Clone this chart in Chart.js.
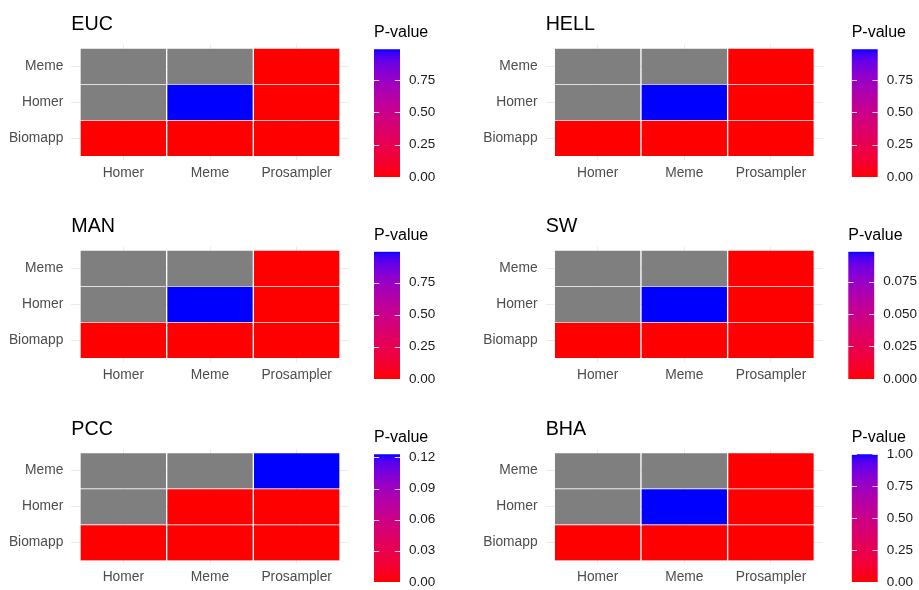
<!DOCTYPE html>
<html>
<head>
<meta charset="utf-8">
<script src="https://cdn.jsdelivr.net/npm/chart.js@4.4.1/dist/chart.umd.min.js"></script>
<style>
  html, body { margin: 0; padding: 0; background: #ffffff; width: 919px; height: 590px; overflow: hidden; position: relative; }
  canvas { position: absolute; }
</style>
</head>
<body>
<script>
// ---- data -------------------------------------------------------------
const xCategories = ['Homer', 'Meme', 'Prosampler'];
const yCategories = ['Biomapp', 'Homer', 'Meme'];
const panelTitles = ['EUC', 'HELL', 'MAN', 'SW', 'PCC', 'BHA'];

// P-values; rows follow yCategories, columns follow xCategories; null = pair not compared
const eucValues  = [[0, 0, 0], [null, 0.99, 0], [null, null, 0]];
const hellValues = [[0, 0, 0], [null, 0.99, 0], [null, null, 0]];
const manValues  = [[0, 0, 0], [null, 0.99, 0], [null, null, 0]];
const swValues   = [[0, 0, 0], [null, 0.098, 0], [null, null, 0]];
const pccValues  = [[0, 0, 0], [null, 0, 0], [null, null, 0.123]];
const bhaValues  = [[0, 0, 0], [null, 1.0, 0], [null, null, 0]];

// colour-bar tick labels
const unitTicks = ['0.00', '0.25', '0.50', '0.75', '1.00'];
const swTicks   = ['0.000', '0.025', '0.050', '0.075'];
const pccTicks  = ['0.00', '0.03', '0.06', '0.09', '0.12'];

const legendTitle = 'P-value';

// ---- layout & style ---------------------------------------------------
const FONT = '"Liberation Sans", Arial, Helvetica, sans-serif';
const TILE_W = 260, TILE_H = 108;   // size of the 3x3 tile block
const BAR_W = 26, BAR_H = 130;      // colour bar size
const NA_COLOR = '#7F7F7F';
const GRID_COLOR = '#EBEBEB';
const AXIS_TEXT = '#4D4D4D';
const LOW = [255, 0, 0], HIGH = [0, 0, 255];

const panels = [
  { title: panelTitles[0], values: eucValues,  ticks: unitTicks, tile: [80, 48],       bar: [374, 49.3] },
  { title: panelTitles[1], values: hellValues, ticks: unitTicks, tile: [554.3, 48],    bar: [851.7, 49.3] },
  { title: panelTitles[2], values: manValues,  ticks: unitTicks, tile: [80, 250],      bar: [374, 251.7] },
  { title: panelTitles[3], values: swValues,   ticks: swTicks,   tile: [554.3, 250],   bar: [848.3, 251.7] },
  { title: panelTitles[4], values: pccValues,  ticks: pccTicks,  tile: [80, 452.5],    bar: [374, 454.3] },
  { title: panelTitles[5], values: bhaValues,  ticks: unitTicks, tile: [554.3, 452.5], bar: [851.7, 454.3] }
];

// ---- red -> blue gradient interpolated in CIE Lab ----------------------
const WHITE = [0.95047, 1, 1.08883];
function toLinear(c) { c /= 255; return c <= 0.04045 ? c / 12.92 : Math.pow((c + 0.055) / 1.055, 2.4); }
function fromLinear(c) {
  const v = c <= 0.0031308 ? 12.92 * c : 1.055 * Math.pow(Math.max(c, 0), 1 / 2.4) - 0.055;
  return Math.round(Math.min(1, Math.max(0, v)) * 255);
}
function rgbToLab(rgb) {
  const [r, g, b] = rgb.map(toLinear);
  const X = (0.4124564 * r + 0.3575761 * g + 0.1804375 * b) / WHITE[0];
  const Y = 0.2126729 * r + 0.7151522 * g + 0.0721750 * b;
  const Z = (0.0193339 * r + 0.1191920 * g + 0.9503041 * b) / WHITE[2];
  const f = t => t > 216 / 24389 ? Math.cbrt(t) : (24389 / 27 * t + 16) / 116;
  const fx = f(X), fy = f(Y), fz = f(Z);
  return [116 * fy - 16, 500 * (fx - fy), 200 * (fy - fz)];
}
function labToRgb([L, a, bb]) {
  const fy = (L + 16) / 116, fx = fy + a / 500, fz = fy - bb / 200;
  const inv = t => (t * t * t > 216 / 24389) ? t * t * t : (116 * t - 16) / (24389 / 27);
  const X = inv(fx) * WHITE[0], Y = inv(fy), Z = inv(fz) * WHITE[2];
  const r = 3.2404542 * X - 1.5371385 * Y - 0.4985314 * Z;
  const g = -0.9692660 * X + 1.8760108 * Y + 0.0415560 * Z;
  const b = 0.0556434 * X - 0.2040259 * Y + 1.0572252 * Z;
  return [fromLinear(r), fromLinear(g), fromLinear(b)];
}
const LOW_LAB = rgbToLab(LOW), HIGH_LAB = rgbToLab(HIGH);
function rampColor(t) {
  t = Math.min(1, Math.max(0, t));
  const lab = LOW_LAB.map((v, i) => v + (HIGH_LAB[i] - v) * t);
  const [r, g, b] = labToRgb(lab);
  return `rgb(${r},${g},${b})`;
}

function valueRange(values) {
  const flat = values.flat().filter(v => v !== null);
  return [Math.min(...flat), Math.max(...flat)];
}

function makeCanvas(left, top, width, height) {
  const c = document.createElement('canvas');
  c.width = width; c.height = height;
  c.style.left = left + 'px'; c.style.top = top + 'px';
  c.style.width = width + 'px'; c.style.height = height + 'px';
  document.body.appendChild(c);
  return c;
}

// ---- heatmap panel -----------------------------------------------------
function drawHeatmap(p) {
  const [lo, hi] = valueRange(p.values);
  const unitX = TILE_W / xCategories.length, unitY = TILE_H / yCategories.length;
  const areaL = p.tile[0] - 0.1 * unitX, areaT = p.tile[1] - 0.1 * unitY;
  const areaW = TILE_W + 0.2 * unitX, areaH = TILE_H + 0.2 * unitY;
  const left = Math.floor(areaL - 70), top = Math.floor(areaT - 42);
  const axisW = areaL - left, headH = areaT - top;
  const width = Math.ceil(axisW + areaW + 10), height = Math.ceil(headH + areaH + 32);
  const rightPad = width - axisW - areaW;
  const axisH = height - headH - areaH;

  const titleSize = 19.7, titleLH = titleSize * 1.2;
  const titleMid = p.tile[1] - 23.3;
  const tPadTop = titleMid - top - titleLH / 2;
  const tPadBottom = headH - titleLH - tPadTop;

  const points = [], colors = [];
  p.values.forEach((row, r) => row.forEach((v, c) => {
    points.push({ x: c, y: [r - 0.5, r + 0.5] });
    colors.push(v === null ? NA_COLOR : rampColor((v - lo) / (hi - lo)));
  }));

  const tickFont = { family: FONT, size: 13.8 };
  new Chart(makeCanvas(left, top, width, height), {
    type: 'bar',
    data: {
      datasets: [{
        data: points,
        backgroundColor: colors,
        borderColor: 'rgba(255,255,255,0.3)',
        borderWidth: 1,
        barPercentage: 1,
        categoryPercentage: 1,
        grouped: false
      }]
    },
    options: {
      responsive: false,
      animation: false,
      events: [],
      layout: { padding: { left: 0, top: 0, right: rightPad, bottom: 0 } },
      plugins: {
        legend: { display: false },
        tooltip: { enabled: false },
        title: {
          display: true, text: p.title, align: 'start', fullSize: false, color: '#000000',
          font: { family: FONT, size: titleSize, weight: 'normal', lineHeight: 1.2 },
          padding: { top: tPadTop, bottom: tPadBottom }
        }
      },
      scales: {
        x: {
          type: 'linear', offset: false, min: -0.6, max: xCategories.length - 0.4,
          afterBuildTicks: s => { s.ticks = xCategories.map((_, i) => ({ value: i })); },
          afterFit: s => { s.height = axisH; },
          ticks: {
            autoSkip: false, maxRotation: 0, padding: 5.2, color: AXIS_TEXT, font: tickFont,
            callback: v => xCategories[Math.round(v)]
          },
          grid: { offset: false, color: GRID_COLOR, lineWidth: 1, drawTicks: false },
          border: { display: false }
        },
        y: {
          type: 'linear', offset: false, min: -0.6, max: yCategories.length - 0.4,
          afterBuildTicks: s => { s.ticks = yCategories.map((_, i) => ({ value: i })); },
          afterFit: s => { s.width = axisW; },
          ticks: {
            autoSkip: false, padding: 8, color: AXIS_TEXT, font: tickFont,
            callback: v => yCategories[Math.round(v)]
          },
          grid: { offset: false, color: GRID_COLOR, lineWidth: 1, drawTicks: false },
          border: { display: false }
        }
      }
    }
  });
}

// ---- colour bar ---------------------------------------------------------
const barTickMarks = {
  id: 'barTickMarks',
  afterDatasetsDraw(chart) {
    const { ctx, chartArea: a, scales: { y } } = chart;
    const len = (a.right - a.left) / 5;
    ctx.save();
    ctx.strokeStyle = 'rgba(255,255,255,0.85)';
    ctx.lineWidth = 1;
    for (const t of y.ticks) {
      const py = Math.round(y.getPixelForValue(t.value)) + 0.5;
      ctx.beginPath();
      ctx.moveTo(a.left, py); ctx.lineTo(a.left + len, py);
      ctx.moveTo(a.right - len, py); ctx.lineTo(a.right, py);
      ctx.stroke();
    }
    ctx.restore();
  }
};

function drawColorbar(p) {
  const [lo, hi] = valueRange(p.values);
  const [bl, bt] = p.bar;
  const left = Math.floor(bl) - 2, top = Math.floor(bt) - 40;
  const padL = bl - left, headH = bt - top;
  const width = Math.ceil(padL + BAR_W + 60), height = Math.ceil(headH + BAR_H + 14);
  const axisW = width - padL - BAR_W;
  const bottomPad = height - headH - BAR_H;

  const titleSize = 16, titleLH = titleSize * 1.2;
  const titleMid = bt - 16.4;
  const tPadTop = titleMid - top - titleLH / 2;
  const tPadBottom = headH - titleLH - tPadTop;

  const tickValues = p.ticks.map(Number);
  const shown = tickValues.map((v, i) => ({ v, label: p.ticks[i] })).filter(t => t.v >= lo - 1e-9 && t.v <= hi + 1e-9);

  let gradient = null;
  const fill = ctx => {
    const a = ctx.chart.chartArea;
    if (!a) return 'rgb(255,0,0)';
    if (!gradient) {
      gradient = ctx.chart.ctx.createLinearGradient(0, a.bottom, 0, a.top);
      for (let i = 0; i <= 40; i++) gradient.addColorStop(i / 40, rampColor(i / 40));
    }
    return gradient;
  };

  new Chart(makeCanvas(left, top, width, height), {
    type: 'bar',
    data: {
      labels: [legendTitle],
      datasets: [{
        data: [[lo, hi]],
        backgroundColor: fill,
        borderWidth: 0,
        barPercentage: 1,
        categoryPercentage: 1
      }]
    },
    options: {
      responsive: false,
      animation: false,
      events: [],
      layout: { padding: { left: padL, top: 0, right: 0, bottom: bottomPad } },
      plugins: {
        legend: { display: false },
        tooltip: { enabled: false },
        title: {
          display: true, text: legendTitle, align: 'start', color: '#000000',
          font: { family: FONT, size: titleSize, weight: 'normal', lineHeight: 1.2 },
          padding: { top: tPadTop, bottom: tPadBottom }
        }
      },
      scales: {
        x: { display: false },
        y: {
          position: 'right', min: lo, max: hi,
          afterBuildTicks: s => { s.ticks = shown.map(t => ({ value: t.v })); },
          afterFit: s => { s.width = axisW; },
          ticks: {
            autoSkip: false, padding: 9, color: '#1A1A1A', font: { family: FONT, size: 13.5 },
            callback: (v, i) => shown[i] ? shown[i].label : ''
          },
          grid: { display: false, drawTicks: false },
          border: { display: false }
        }
      }
    },
    plugins: [barTickMarks]
  });
}

panels.forEach(p => { drawHeatmap(p); drawColorbar(p); });
</script>
</body>
</html>
